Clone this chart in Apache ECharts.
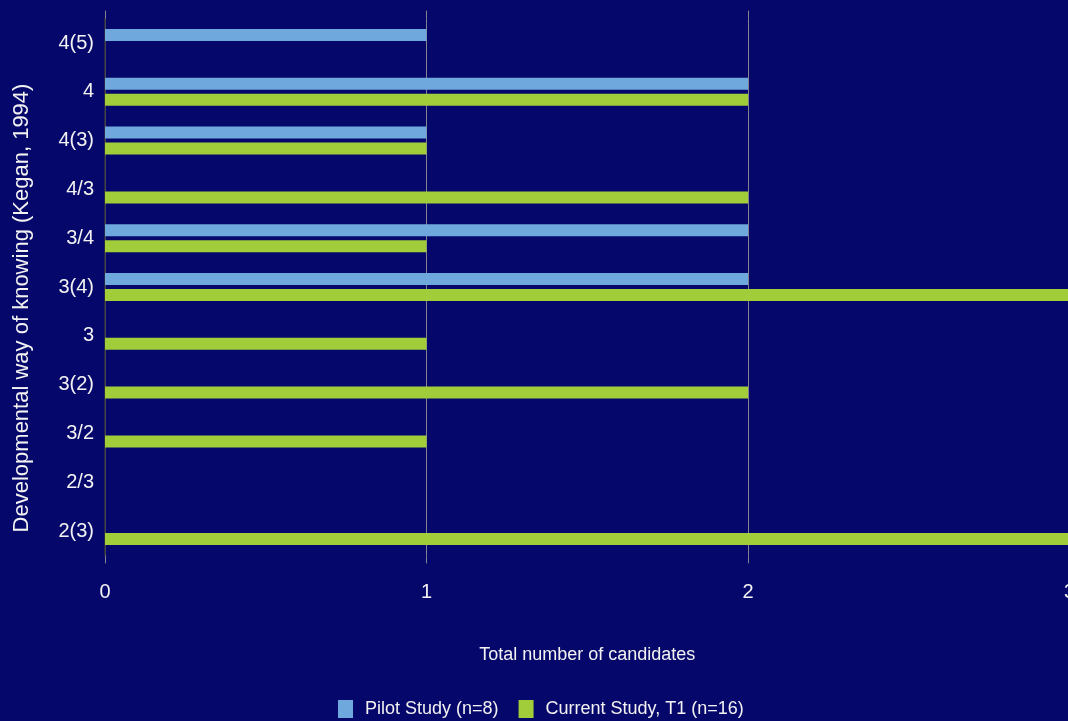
<!DOCTYPE html>
<html>
<head>
<meta charset="utf-8">
<script src="https://cdn.jsdelivr.net/npm/echarts@6/dist/echarts.min.js"></script>
<style>
  html, body { margin: 0; padding: 0; background: #06076a; }
  #chart { width: 1068px; height: 721px; }
</style>
</head>
<body>
<div id="chart"></div>
<script>
// categories listed top to bottom
const stages = ['4(5)', '4', '4(3)', '4/3', '3/4', '3(4)', '3', '3(2)', '3/2', '2/3', '2(3)']
const pilotCounts = [1, 2, 1, 0, 2, 2, 0, 0, 0, 0, 0]
const currentCounts = [0, 2, 1, 2, 1, 3, 1, 2, 1, 0, 3]
const seriesNames = ['Pilot Study (n=8)', 'Current Study, T1 (n=16)']
const xTicks = [0, 1, 2, 3]

const chart = echarts.init(document.getElementById('chart'), null, { renderer: 'canvas' })

const font = 'Liberation Sans, Arial, sans-serif'
const gridGray = '#84848e'

const option = {
  backgroundColor: '#06076a',
  animation: false,
  grid: {
    left: 105,
    right: -1.5,
    top: 18.6,
    bottom: 165.6,
    outerBoundsMode: 'none'
  },
  legend: {
    data: seriesNames,
    bottom: -2,
    left: 333,
    itemWidth: 15,
    itemHeight: 18,
    itemGap: 20,
    icon: 'rect',
    textStyle: { color: '#f2f2f2', fontSize: 18, fontFamily: font, padding: [0, 0, 0, 7] }
  },
  xAxis: [
    {
      type: 'value',
      min: xTicks[0],
      max: xTicks[xTicks.length - 1],
      interval: 1,
      name: 'Total number of candidates',
      nameLocation: 'middle',
      nameGap: 91,
      nameTextStyle: { color: '#f2f2f2', fontSize: 18, fontFamily: font, verticalAlign: 'top' },
      axisLine: { show: false },
      axisTick: { show: true, length: 8, lineStyle: { color: gridGray } },
      axisLabel: { color: '#f2f2f2', fontSize: 20, fontFamily: font, margin: 27 },
      splitLine: { show: true, lineStyle: { color: gridGray, width: 1 } }
    },
    {
      // top overshoot of the grid lines
      type: 'value',
      position: 'top',
      min: xTicks[0],
      max: xTicks[xTicks.length - 1],
      interval: 1,
      axisLine: { show: false },
      axisTick: { show: true, length: 8, lineStyle: { color: gridGray } },
      axisLabel: { show: false },
      splitLine: { show: false }
    }
  ],
  yAxis: {
    type: 'category',
    data: stages,
    inverse: true,
    name: 'Developmental way of knowing (Kegan, 1994)',
    nameLocation: 'middle',
    nameGap: 72,
    nameRotate: 90,
    nameTextStyle: { color: '#f2f2f2', fontSize: 22, fontFamily: font, padding: [0, 42, 0, 0] },
    axisLine: { show: true, lineStyle: { color: '#30303c', width: 1.5 } },
    axisTick: { show: false },
    axisLabel: { color: '#f2f2f2', fontSize: 20, fontFamily: font, margin: 11 },
    splitLine: { show: false }
  },
  series: [
    {
      name: seriesNames[0],
      type: 'bar',
      data: pilotCounts,
      barWidth: 12,
      barGap: '33%',
      itemStyle: { color: '#6fa8dc' }
    },
    {
      name: seriesNames[1],
      type: 'bar',
      data: currentCounts,
      barWidth: 12,
      barGap: '33%',
      itemStyle: { color: '#a2cd3a' }
    }
  ]
}

chart.setOption(option)
</script>
</body>
</html>
